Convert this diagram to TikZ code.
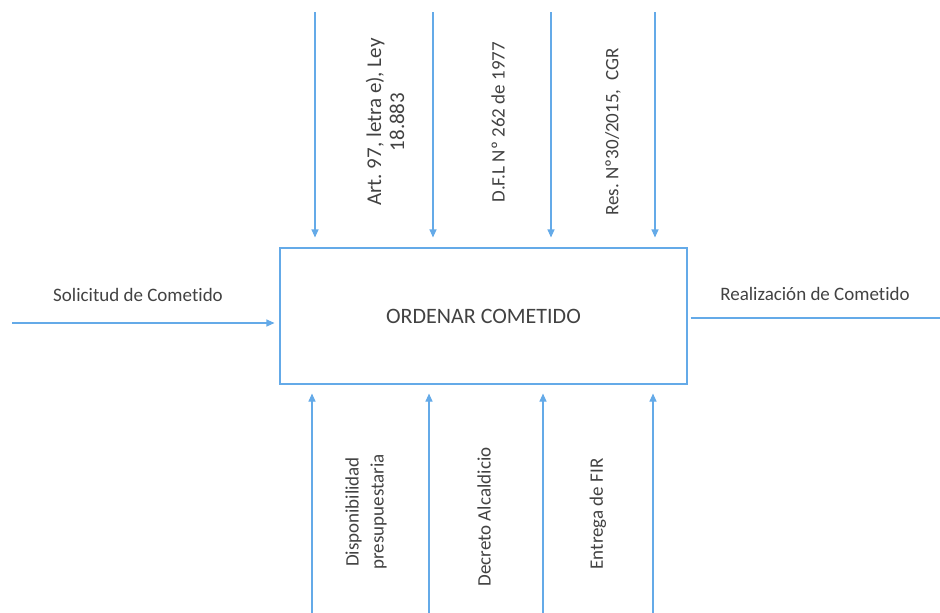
\documentclass[tikz,border=0pt]{standalone}
\usepackage{fontspec}
\setmainfont{Carlito}[Ligatures=NoCommon]
\usetikzlibrary{arrows.meta}
\definecolor{flecha}{RGB}{100,170,232}
\definecolor{texto}{RGB}{66,66,66}
\frenchspacing
\begin{document}
\begin{tikzpicture}[x=1pt,y=-1pt,
    flujo/.style={draw=flecha,line width=1.1pt,-{Triangle[width=7pt,length=8pt]}},
    etiqueta/.style={text=texto,font=\fontsize{19}{23}\selectfont,align=center}]
  \useasboundingbox (0,0) rectangle (940,613);

  \node[draw=flecha,line width=1.1pt,minimum width=407pt,minimum height=136pt,
        text=texto,font=\fontsize{22}{26}\selectfont] (proc) at (483.5,316) {ORDENAR COMETIDO};

  \begin{scope}
    \coordinate (c1) at (315,12);
    \coordinate (c2) at (433,12);
    \coordinate (c3) at (551,12);
    \coordinate (c4) at (655,12);
    \coordinate (m1) at (312,613);
    \coordinate (m2) at (429,613);
    \coordinate (m3) at (543,613);
    \coordinate (m4) at (653,613);
    \coordinate (entrada) at (12,323);
    \coordinate (salida) at (940,318);
  \end{scope}

  \begin{scope}[every node/.style={etiqueta}]
    \node[rotate=90,font=\fontsize{21}{23}\selectfont] (art) at (385,122) {Art. 97, letra e), Ley\\18.883};
    \node[rotate=90] (dfl) at (498,122) {D.F.L Nº 262 de 1977};
    \node[rotate=90] (res) at (613,132) {Res. Nº30/2015,\ \ CGR};
    \node[rotate=90,font=\fontsize{19}{25}\selectfont] (disp) at (366,512) {Disponibilidad\\presupuestaria};
    \node[rotate=90] (decr) at (484,517) {Decreto Alcaldicio};
    \node[rotate=90] (fir) at (598,514) {Entrega de FIR};
    \node (sol) at (138,295) {Solicitud de Cometido};
    \node (real) at (815,294) {Realización de Cometido};
  \end{scope}

  \begin{scope}[every edge/.style={flujo}]
    \path (c1) edge[shorten >=10pt] (c1 |- proc.north);
    \path (c2) edge[shorten >=10pt] (c2 |- proc.north);
    \path (c3) edge[shorten >=10pt] (c3 |- proc.north);
    \path (c4) edge[shorten >=10pt] (c4 |- proc.north);
    \path (m1) edge[shorten >=9pt] (m1 |- proc.south);
    \path (m2) edge[shorten >=9pt] (m2 |- proc.south);
    \path (m3) edge[shorten >=9pt] (m3 |- proc.south);
    \path (m4) edge[shorten >=9pt] (m4 |- proc.south);
    \path (entrada) edge[shorten >=5pt] (proc.west |- entrada);
    \path (proc.east |- salida) edge[-,shorten <=3pt] (salida);
  \end{scope}

\end{tikzpicture}
\end{document}
